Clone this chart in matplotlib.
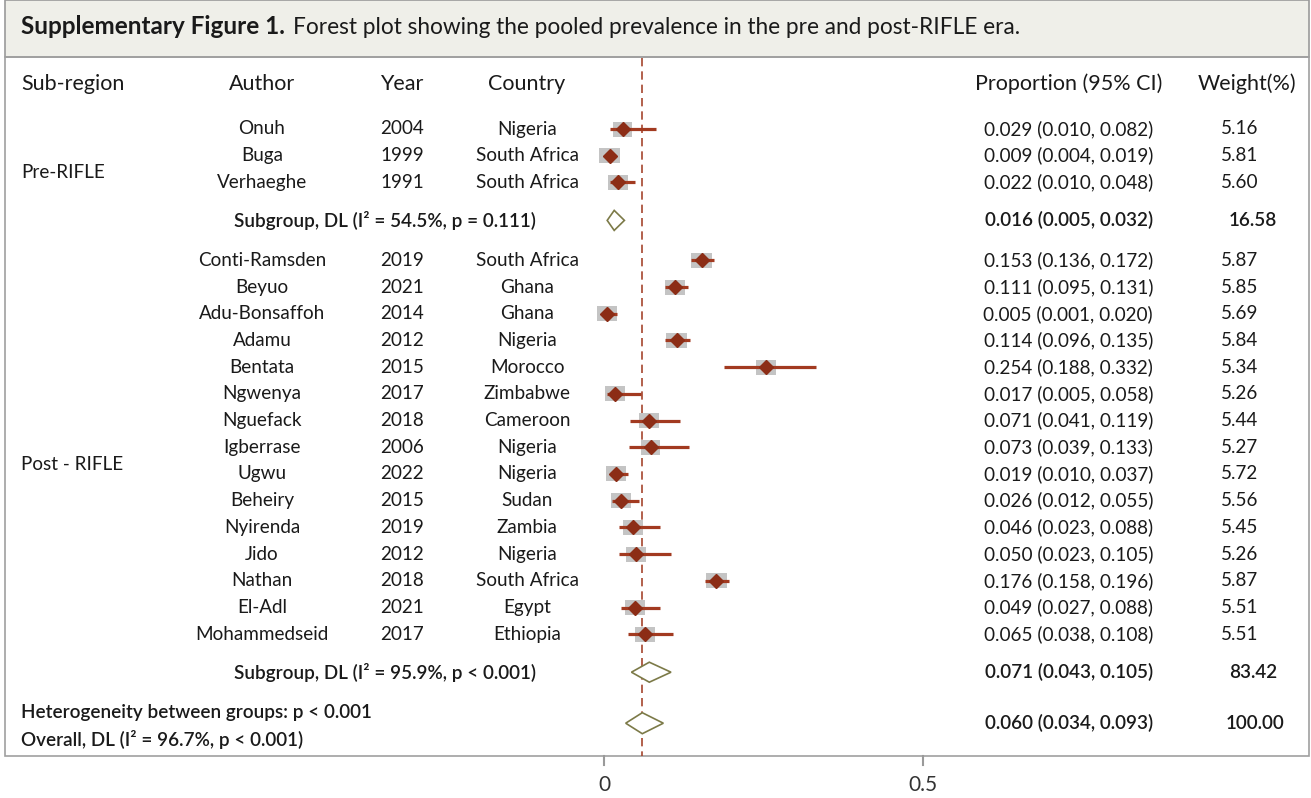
import numpy as np
import matplotlib.pyplot as plt
from matplotlib.patches import Rectangle, Polygon
from matplotlib.transforms import blended_transform_factory

plt.rcParams['font.family'] = ['Lato', 'DejaVu Sans']

# study data
authors = ["Onuh", "Buga", "Verhaeghe",
           "Conti-Ramsden", "Beyuo", "Adu-Bonsaffoh", "Adamu", "Bentata", "Ngwenya",
           "Nguefack", "Igberrase", "Ugwu", "Beheiry", "Nyirenda", "Jido", "Nathan",
           "El-Adl", "Mohammedseid"]
years = [2004, 1999, 1991,
         2019, 2021, 2014, 2012, 2015, 2017, 2018, 2006, 2022, 2015, 2019, 2012, 2018, 2021, 2017]
countries = ["Nigeria", "South Africa", "South Africa",
             "South Africa", "Ghana", "Ghana", "Nigeria", "Morocco", "Zimbabwe", "Cameroon",
             "Nigeria", "Nigeria", "Sudan", "Zambia", "Nigeria", "South Africa", "Egypt", "Ethiopia"]
est = [0.029, 0.009, 0.022,
       0.153, 0.111, 0.005, 0.114, 0.254, 0.017, 0.071, 0.073, 0.019, 0.026, 0.046, 0.050, 0.176, 0.049, 0.065]
lo = [0.010, 0.004, 0.010,
      0.136, 0.095, 0.001, 0.096, 0.188, 0.005, 0.041, 0.039, 0.010, 0.012, 0.023, 0.023, 0.158, 0.027, 0.038]
hi = [0.082, 0.019, 0.048,
      0.172, 0.131, 0.020, 0.135, 0.332, 0.058, 0.119, 0.133, 0.037, 0.055, 0.088, 0.105, 0.196, 0.088, 0.108]
weights = [5.16, 5.81, 5.60,
           5.87, 5.85, 5.69, 5.84, 5.34, 5.26, 5.44, 5.27, 5.72, 5.56, 5.45, 5.26, 5.87, 5.51, 5.51]
groups = ["Pre-RIFLE"] * 3 + ["Post - RIFLE"] * 15

# subgroup results
sub_names = ["Pre-RIFLE", "Post - RIFLE"]
sub_est = [0.016, 0.071]
sub_lo = [0.005, 0.043]
sub_hi = [0.032, 0.105]
sub_w = [16.58, 83.42]
sub_i2 = ["54.5", "95.9"]
sub_p = ["= 0.111", "< 0.001"]

# overall
ov_est, ov_lo, ov_hi = 0.060, 0.034, 0.093
ov_i2 = "96.7"
het_p = "< 0.001"

xticks = [0, 0.5]
xticklabels = ["0", "0.5"]

W, H = 1311, 798
fig = plt.figure(figsize=(W / 100, H / 100), dpi=100)
ax = fig.add_axes([0, 0, 1, 1])
x0 = 604
scale = 638  # pixels per unit of proportion
ax.set_xlim(-x0 / scale, (W - x0) / scale)
ax.set_ylim(H, 0)
ax.axis('off')
bt = blended_transform_factory(ax.transAxes, ax.transData)


def fx(p):
    return p / W


FS = 13.6   # row text
HFS = 15.5  # column headers
BW = 'semibold'
dark = '#1a1a1a'
line_col = '#A23A20'
dot_col = '#8C2D16'
box_col = '#C4C4C4'
dia_col = '#7C7A48'

# frames
ax.add_patch(Rectangle((fx(5), 0), fx(1304), 57, transform=bt, fc='#EFEFE9', ec='#9A9A9A', lw=1.2, zorder=0))
ax.add_patch(Rectangle((fx(5), 57), fx(1304), 699, transform=bt, fc='none', ec='#A0A0A0', lw=1.2, zorder=0))

# title
t1 = ax.text(fx(21), 34, "Supplementary Figure 1.", transform=bt, fontsize=17.5, weight='bold',
             color=dark, va='baseline')
ax.annotate("Forest plot showing the pooled prevalence in the pre and post-RIFLE era.",
            xy=(1, 0), xycoords=t1, xytext=(6, 0), textcoords='offset points',
            fontsize=16.3, color=dark, va='bottom')

# column headers
hy = 84
ax.text(fx(21), hy, "Sub-region", transform=bt, fontsize=HFS, va='center', ha='left', color=dark)
ax.text(fx(262), hy, "Author", transform=bt, fontsize=HFS, va='center', ha='center', color=dark)
ax.text(fx(402), hy, "Year", transform=bt, fontsize=HFS, va='center', ha='center', color=dark)
ax.text(fx(527), hy, "Country", transform=bt, fontsize=HFS, va='center', ha='center', color=dark)
ax.text(fx(1069), hy, "Proportion (95% CI)", transform=bt, fontsize=HFS, va='center', ha='center', color=dark)
ax.text(fx(1247), hy, "Weight(%)", transform=bt, fontsize=HFS, va='center', ha='center', color=dark)

# row layout
step = 26.7
y = 129
last_sub_y = 0
for g, name in enumerate(sub_names):
    first_y = y
    members = [i for i in range(len(authors)) if groups[i] == name]
    for i in members:
        ax.text(fx(262), y, authors[i], transform=bt, fontsize=FS, va='center', ha='center', color=dark)
        ax.text(fx(402), y, str(years[i]), transform=bt, fontsize=FS, va='center', ha='center', color=dark)
        ax.text(fx(527), y, countries[i], transform=bt, fontsize=FS, va='center', ha='center', color=dark)
        ax.text(fx(1153), y, f"{est[i]:.3f} ({lo[i]:.3f}, {hi[i]:.3f})", transform=bt, fontsize=FS,
                va='center', ha='right', color=dark)
        ax.text(fx(1240), y, f"{weights[i]:.2f}", transform=bt, fontsize=FS, va='center', ha='center', color=dark)
        bw = 20 * np.sqrt(weights[i] / 5.5) / scale
        bh = 15
        ax.add_patch(Rectangle((est[i] - bw / 2, y - bh / 2), bw, bh, fc=box_col, ec='none', zorder=2))
        ax.plot([lo[i], hi[i]], [y, y], color=line_col, lw=2.3, solid_capstyle='butt', zorder=3)
        ax.plot(est[i], y, marker='D', ms=7, color=dot_col, mec=dot_col, zorder=4)
        last = y
        y += step
    sy = last + 38
    ax.text(fx(385), sy, f"Subgroup, DL (I² = {sub_i2[g]}%, p {sub_p[g]})", transform=bt, fontsize=FS,
            weight=BW, va='center', ha='center', color=dark)
    ax.text(fx(1153), sy, f"{sub_est[g]:.3f} ({sub_lo[g]:.3f}, {sub_hi[g]:.3f})", transform=bt, fontsize=FS,
            weight=BW, va='center', ha='right', color=dark)
    ax.text(fx(1253), sy, f"{sub_w[g]:.2f}", transform=bt, fontsize=FS, weight=BW,
            va='center', ha='center', color=dark)
    ax.add_patch(Polygon([(sub_lo[g], sy), (sub_est[g], sy - 10), (sub_hi[g], sy), (sub_est[g], sy + 10)],
                         closed=True, fc='white', ec=dia_col, lw=1.2, zorder=3))
    ax.text(fx(21), (first_y + sy) / 2 - 2, name, transform=bt, fontsize=FS, va='center', ha='left', color=dark)
    last_sub_y = sy
    y = sy + 40

# overall
oy = last_sub_y + 51
ax.text(fx(21), last_sub_y + 40, f"Heterogeneity between groups: p {het_p}", transform=bt, fontsize=FS,
        weight=BW, va='center', ha='left', color=dark)
ax.text(fx(21), last_sub_y + 67, f"Overall, DL (I² = {ov_i2}%, p < 0.001)", transform=bt, fontsize=FS,
        weight=BW, va='center', ha='left', color=dark)
ax.text(fx(1153), oy, f"{ov_est:.3f} ({ov_lo:.3f}, {ov_hi:.3f})", transform=bt, fontsize=FS,
        weight=BW, va='center', ha='right', color=dark)
ax.text(fx(1255), oy, "100.00", transform=bt, fontsize=FS, weight=BW, va='center', ha='center', color=dark)
ax.add_patch(Polygon([(ov_lo, oy), (ov_est, oy - 10.5), (ov_hi, oy), (ov_est, oy + 10.5)],
                     closed=True, fc='white', ec=dia_col, lw=1.2, zorder=3))

# overall reference line
ax.plot([ov_est, ov_est], [58, 756], color='#A5452E', lw=1.2, dashes=(5, 3), zorder=1)

# x axis ticks
for t, lab in zip(xticks, xticklabels):
    ax.plot([t, t], [756, 765], color='#9A9A9A', lw=1.5, zorder=1)
    ax.text(t, 785, lab, fontsize=15, ha='center', va='center', color='#333333')

fig.savefig('out.png', dpi=100)
